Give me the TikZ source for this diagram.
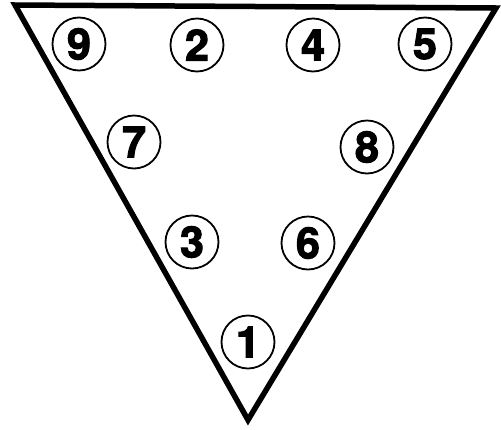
\documentclass[tikz,border=0pt]{standalone}
\usepackage{fontspec}
\setmainfont{TeX Gyre Heros}
\newfontfamily\numfont{TeX Gyre Heros}[BoldFeatures={FakeBold=2.5}]
\begin{document}
\begin{tikzpicture}[x=1pt,y=-1pt,
  num/.style={circle,draw,line width=1.8pt,minimum size=53pt,inner sep=0pt,font=\numfont\fontsize{43}{43}\selectfont\bfseries}]
\useasboundingbox (0,0) rectangle (501,429);
\coordinate (tl) at (15,5);
\coordinate (tr) at (496,8);
\coordinate (ap) at (248,420);
\draw[line width=5.5pt,line join=miter] (tl) -- (tr) -- (ap) -- cycle;
\node[num] (n9) at (79,44) {9};
\node[num] (n2) at (197,45) {2};
\node[num] (n4) at (313,45) {4};
\node[num] (n5) at (425,44) {5};
\node[num] (n7) at (134,142) {7};
\node[num] (n8) at (367,147) {8};
\node[num] (n3) at (192,242) {3};
\node[num] (n6) at (308,243) {6};
\node[num] (n1) at (248,342) {1};
\end{tikzpicture}
\end{document}
